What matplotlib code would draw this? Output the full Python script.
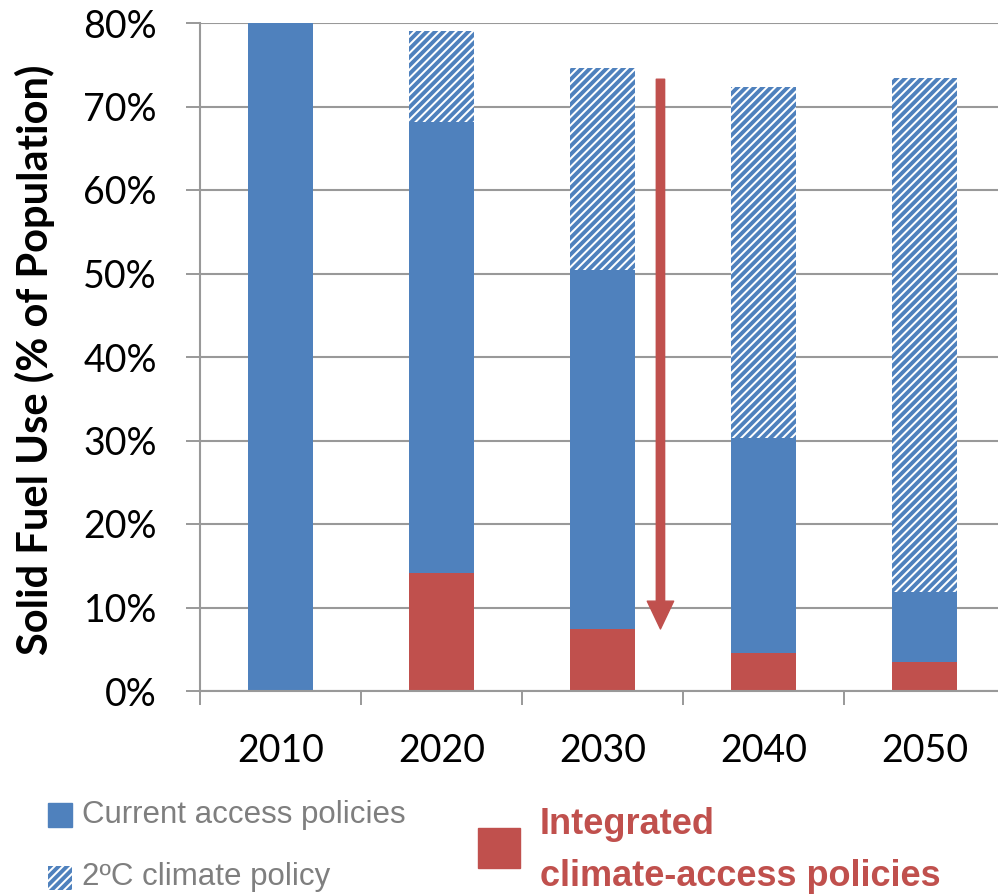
import matplotlib
matplotlib.use("Agg")
import matplotlib.pyplot as plt
from matplotlib.patches import Rectangle, FancyArrowPatch
import numpy as np

# values (% of population)
years = ["2010", "2020", "2030", "2040", "2050"]
integrated = [0.0, 14.1, 7.4, 4.6, 3.5]         # red
current_access = [80.0, 68.1, 50.4, 30.3, 11.9]  # blue (total height)
climate_2c = [80.0, 79.0, 74.6, 72.3, 73.4]      # hatched (total height)

yticks = [0, 10, 20, 30, 40, 50, 60, 70, 80]

blue = "#4F81BD"
red = "#C0504D"
gray = "#999999"

plt.rcParams["hatch.linewidth"] = 2.8
plt.rcParams["hatch.color"] = blue
plt.rcParams["font.family"] = ["Lato", "DejaVu Sans"]

fig = plt.figure(figsize=(9.98, 8.94), dpi=100)
W, H = 998, 894
ax = fig.add_axes([200 / W, 1 - 691 / H, 805 / W, (691 - 23) / H])

x = np.arange(len(years))
bw = 0.4
integrated = np.array(integrated)
current_access = np.array(current_access)
climate_2c = np.array(climate_2c)

ax.bar(x, climate_2c - current_access, bw, bottom=current_access,
       color="white", edgecolor=blue, hatch="////", linewidth=0, zorder=2)
ax.bar(x, current_access - integrated, bw, bottom=integrated,
       color=blue, linewidth=0, zorder=2)
ax.bar(x, integrated, bw, color=red, linewidth=0, zorder=2)

# big downward arrow
arr = FancyArrowPatch((2.36, 73.6), (2.36, 7.1),
                      arrowstyle="simple,head_width=19,head_length=20,tail_width=6",
                      mutation_scale=1, color=red, zorder=4)
ax.add_patch(arr)

ax.set_xlim(-0.5, 4.5)
ax.set_ylim(0, 80)
ax.set_yticks(yticks)
ax.set_yticklabels([f"{v}%" for v in yticks])
ax.set_xticks(np.arange(-0.5, 4.5, 1.0))
ax.set_xticklabels([])
ax.set_xticks(x, minor=True)
ax.set_xticklabels(years, minor=True)
ax.tick_params(axis="x", which="minor", length=0, pad=30, labelsize=27)
ax.tick_params(axis="x", which="major", length=10, width=1.4, color=gray)
ax.tick_params(axis="y", length=10, width=1.4, color=gray, labelsize=27, pad=21)

ax.grid(axis="y", color=gray, linewidth=1.5, zorder=0)
ax.set_axisbelow(True)
for s in ["top", "right"]:
    ax.spines[s].set_visible(False)
for s in ["left", "bottom"]:
    ax.spines[s].set_color(gray)
    ax.spines[s].set_linewidth(1.5)

fig.text(35 / W, 1 - 360 / H, "Solid Fuel Use (% of Population)", rotation=90,
         fontsize=30, fontweight="bold", ha="center", va="center")

# legend drawn by hand
fig.patches.append(Rectangle((48 / W, 1 - 827 / H), 24 / W, 24 / H,
                             transform=fig.transFigure, color=blue, figure=fig))
fig.patches.append(Rectangle((48 / W, 1 - 890 / H), 24 / W, 24 / H,
                             transform=fig.transFigure, facecolor="white",
                             edgecolor=blue, hatch="////", linewidth=0, figure=fig))
fig.patches.append(Rectangle((478 / W, 1 - 868 / H), 42 / W, 40 / H,
                             transform=fig.transFigure, color=red, figure=fig))

fig.text(82 / W, 1 - 815 / H, "Current access policies", fontsize=22.5,
         color="#7F7F7F", family="Liberation Sans", va="center")
fig.text(82 / W, 1 - 877 / H, "2ºC climate policy", fontsize=22.5,
         color="#7F7F7F", family="Liberation Sans", va="center")
fig.text(540 / W, 1 - 824 / H, "Integrated", fontsize=26, color=red,
         fontweight="bold", family="Liberation Sans", va="center")
fig.text(540 / W, 1 - 877 / H, "climate-access policies", fontsize=26, color=red,
         fontweight="bold", family="Liberation Sans", va="center")

fig.savefig("out.png", dpi=100)
